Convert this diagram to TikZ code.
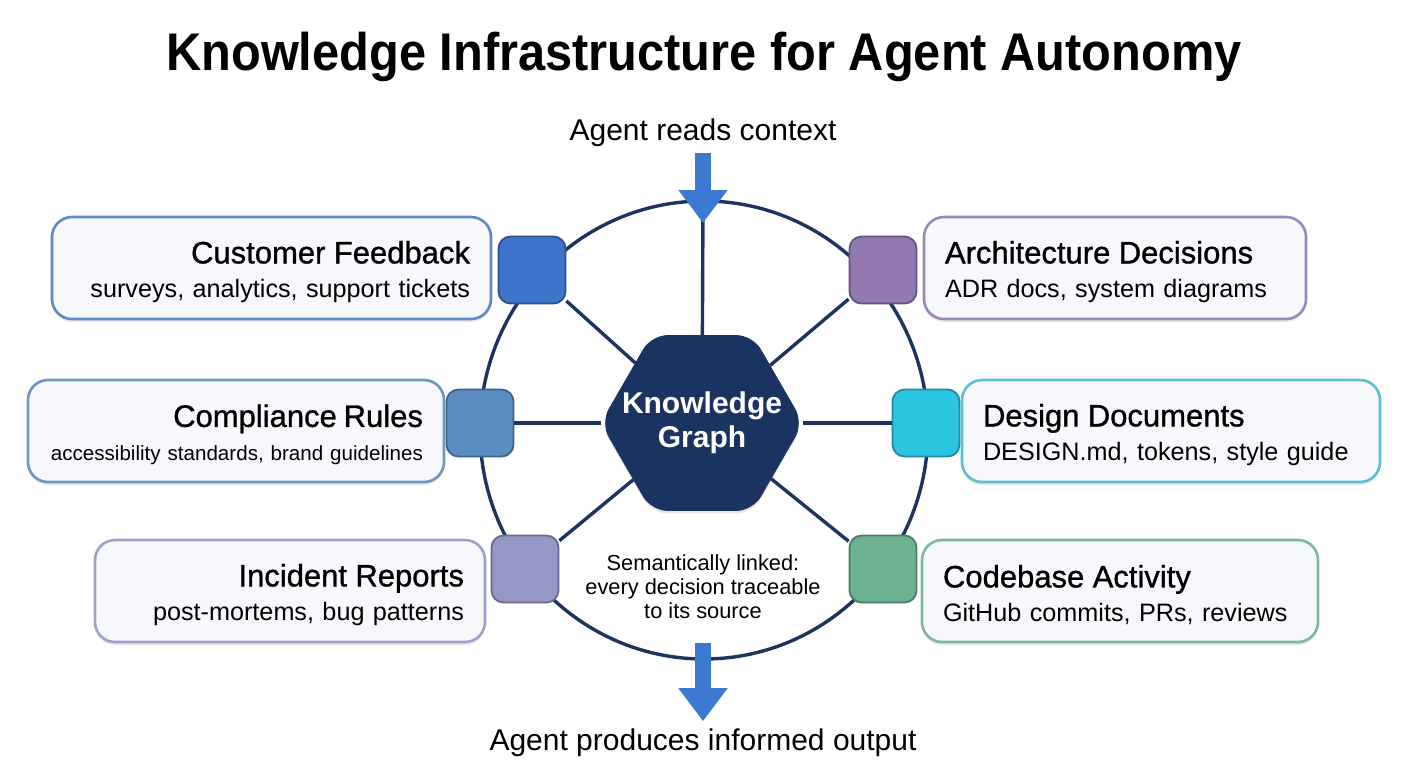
\documentclass[tikz,border=0pt]{standalone}
\usepackage{fontspec}
\setmainfont{Liberation Sans}
\newfontfamily\medfont[FakeBold=1]{Liberation Sans}
\usetikzlibrary{shapes.geometric, shadows, arrows.meta}

\definecolor{navy}{HTML}{1D3461}
\definecolor{hubfill}{HTML}{1A3361}
\definecolor{flowblue}{HTML}{3B79D3}
\definecolor{cardbg}{HTML}{F6F8FB}
\definecolor{fbtile}{HTML}{3F74CB}
\definecolor{fbline}{HTML}{5E88C6}
\definecolor{crtile}{HTML}{5A8DC2}
\definecolor{crline}{HTML}{6C96C3}
\definecolor{irtile}{HTML}{9597C7}
\definecolor{irline}{HTML}{9DA1CB}
\definecolor{adtile}{HTML}{9279B1}
\definecolor{adline}{HTML}{9C87BA}
\definecolor{ddtile}{HTML}{2AC5E0}
\definecolor{ddline}{HTML}{5CBFD2}
\definecolor{catile}{HTML}{6CB190}
\definecolor{caline}{HTML}{7DB89A}

% card heading and detail line
\newcommand{\hd}[1]{{\medfont\fontsize{15.5}{17}\selectfont\rule{0pt}{15pt}#1}}
\newcommand{\dt}[1]{\mbox{#1}}

\begin{document}
\begin{tikzpicture}[
    x=0.5pt, y=-0.5pt,
    every node/.style={font=\fontsize{12.6}{17}\selectfont},
    ring/.style={draw=navy, line width=1.7pt},
    spoke/.style={draw=navy, line width=1.7pt},
    hub/.style={regular polygon, regular polygon sides=6, minimum size=101pt,
        inner sep=0pt, rounded corners=8pt, fill=hubfill, draw=hubfill,
        drop shadow={opacity=0.2, shadow xshift=0pt, shadow yshift=-1.5pt}},
    hubtext/.style={text=white, align=center, inner sep=0pt,
        font=\bfseries\fontsize{15}{17}\selectfont},
    tile/.style={rectangle, rounded corners=6pt, minimum size=33.5pt,
        fill=#1, draw=#1!70!black, line width=0.9pt},
    card/.style={rectangle, rounded corners=10pt, draw=#1, line width=1.3pt,
        fill=cardbg, inner xsep=10.5pt, inner ysep=0pt, minimum height=51pt,
        drop shadow={opacity=0.18, shadow xshift=0pt, shadow yshift=-1.5pt}},
    cardL/.style={card=#1, align=right},
    cardR/.style={card=#1, align=left},
    flow/.style={draw=flowblue, line width=8pt,
        -{Triangle[width=23.5pt, length=16.5pt]}}
]
\useasboundingbox (0,0) rectangle (1408,768);

\coordinate (ring) at (704,430);
\coordinate (ringtop) at (703,201);
\coordinate (inflow) at (703,223);
\coordinate (outflow) at (703,643);

% Title
\node[anchor=base, font=\bfseries\fontsize{26.5}{30}\selectfont] (title) at (704,70)
    {\scalebox{0.92}[1]{Knowledge Infrastructure for Agent Autonomy}};

% Ring
\draw[ring] (ring) ellipse [x radius=224, y radius=229];

% Hub
\node[hub, label={[hubtext]center:Knowledge\\Graph}] (kg) at (702,423) {};

% Tiles
\node[tile=fbtile] (tfb) at (532,270) {};
\node[tile=crtile] (tcr) at (480,423) {};
\node[tile=irtile] (tir) at (525,569) {};
\node[tile=adtile] (tad) at (883,270) {};
\node[tile=ddtile] (tdd) at (926,423) {};
\node[tile=catile] (tca) at (883,569) {};

% Cards
\node[cardL=fbline, text width=198.5pt] (cfb) at (271.5,268)
    {\hd{Customer Feedback}\\\dt{surveys, analytics, support tickets}};
\node[cardL=crline, text width=187pt, font=\fontsize{10.3}{17}\selectfont] (ccr) at (236,431)
    {\hd{Compliance Rules}\\\dt{accessibility standards, brand guidelines}};
\node[cardL=irline, text width=174pt] (cir) at (290,591)
    {\hd{Incident Reports}\\\dt{post-mortems, bug patterns}};
\node[cardR=adline, text width=170pt] (cad) at (1115,268)
    {\hd{Architecture Decisions}\\\dt{ADR docs, system diagrams}};
\node[cardR=ddline, text width=188pt] (cdd) at (1171,431)
    {\hd{Design Documents}\\\dt{DESIGN.md, tokens, style guide}};
\node[cardR=caline, text width=177pt] (cca) at (1120,591)
    {\hd{Codebase Activity}\\\dt{GitHub commits, PRs, reviews}};

% Texts
\node[anchor=base, font=\fontsize{15}{17}\selectfont] (reads) at (703,140) {Agent reads context};
\node[anchor=base, font=\fontsize{15}{17}\selectfont] (produces) at (703,750) {Agent produces informed output};
\node[align=center, font=\fontsize{10.9}{12}\selectfont] (sem) at (703,587)
    {Semantically linked:\\every decision traceable\\to its source};

% Spokes
\draw[spoke] (kg) -- (ringtop);
\draw[spoke] (kg) -- (tfb);
\draw[spoke] (kg) -- (tcr);
\draw[spoke] (kg) -- (tir);
\draw[spoke] (kg) -- (tad);
\draw[spoke] (kg) -- (tdd);
\draw[spoke] (kg) -- (tca);

% Flow in and out
\draw[flow] (reads) -- (inflow);
\draw[flow] (outflow) -- (produces);

\end{tikzpicture}
\end{document}
